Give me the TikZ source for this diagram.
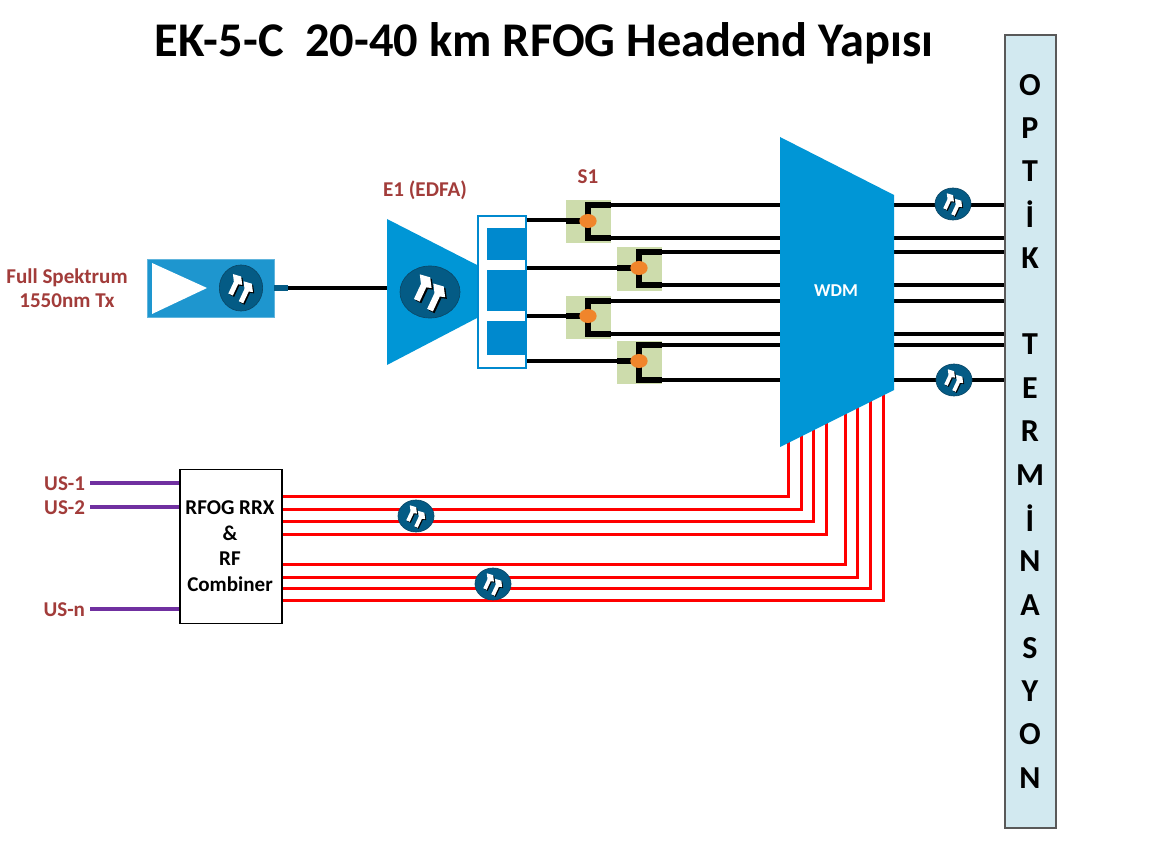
\documentclass[tikz,border=0pt]{standalone}
\usepackage{fontspec}
\setmainfont{Carlito}
\usetikzlibrary{backgrounds,shapes.geometric}
\definecolor{wdmblue}{HTML}{0096D6}
\definecolor{txblue}{HTML}{1E96CF}
\definecolor{inblue}{HTML}{0089CE}
\definecolor{ampdark}{HTML}{045B85}
\definecolor{ampedge}{HTML}{0A4868}
\definecolor{labelred}{HTML}{A23C3A}
\definecolor{splitgreen}{HTML}{CDDCAC}
\definecolor{dotorange}{HTML}{F0852B}
\definecolor{barfill}{HTML}{D2E9F0}
\definecolor{uspurple}{HTML}{7030A0}
\tikzset{
  x=0.75pt,y=-0.75pt,
  every node/.style={inner sep=0pt,outer sep=0pt,align=center,font=\bfseries\fontsize{15.8}{18}\selectfont},
  fiber/.style={black,line width=2.3pt},
  fiberfat/.style={black,line width=4.2pt},
  redfiber/.style={red,line width=2.25pt},
  usline/.style={uspurple,line width=2.6pt},
  brownlabel/.style={text=labelred},
  ampdisc/.style={ellipse,draw=ampedge,line width=0.5pt,fill=ampdark},
  smallamp/.style={ampdisc,minimum width=27pt,minimum height=24pt},
  splitbox/.style={fill=splitgreen,minimum width=33.75pt,minimum height=32.5pt},
  splitdot/.style={ellipse,fill=dotorange,minimum width=13pt,minimum height=10.5pt},
  ampmark/.pic={
    \foreach \dx/\dy/\col in {1/1/black,0/0/white}{
      \foreach \tx/\ty/\len in {-8/5/16,0/11/16.5}{
        \fill[\col,shift={(\tx+\dx,\ty+\dy)},rotate=-25]
          (-1.9,0) -- (1.9,0) -- (1.9,-\len+6.5) -- (5,-\len+5.5) -- (1.5,-\len) -- (-5,-\len+1) -- (-1.9,-\len+6) -- cycle;
      }
    }
  }
}
\begin{document}
\begin{tikzpicture}
\useasboundingbox (0,0) rectangle (1158,852);

% Title
\node[font=\bfseries\fontsize{36.3}{40}\selectfont] (title) at (544,43) {EK-5-C\ \ 20-40 km RFOG Headend Yapısı};

% Termination bar with its vertical lettering
\node[draw=black!65,line width=1pt,fill=barfill,minimum width=38.25pt,minimum height=594.75pt] (bar) at (1030.5,431.5) {};
\foreach \yy/\ch/\n in {85/O/a,128/P/b,171/T/c,214/İ/d,258/K/e,344/T/f,388/E/g,431/R/h,475/M/i,518/İ/j,561/N/k,605/A/l,648/S/m,691/Y/n,734/O/o,778/N/p}
  \node[font=\bfseries\fontsize{24}{26}\selectfont] (ch\n) at (1030,\yy) {\ch};

% WDM body and its ports
\fill[wdmblue] (780,137) -- (894,195) -- (894,390) -- (780,447) -- cycle;
\node[text=white,font=\bfseries\fontsize{13.6}{16}\selectfont] (wdm) at (836,291) {WDM};
\foreach \yy/\n in {205/1,238/2,252/3,285/4,301/5,334/6,345/7,380/8}{
  \coordinate (wl\n) at (780,\yy);
  \coordinate (wr\n) at (894,\yy);
  \coordinate (bar\n) at (1005,\yy);
}

% Transmitter
\node[fill=txblue,draw=txblue!70!white,line width=0.4pt,minimum width=95pt,minimum height=43.5pt] (tx) at (210.7,288) {};
\fill[white] (152,263) -- (207,288) -- (152,314) -- cycle;
\node[ampdisc,minimum width=32.5pt,minimum height=34.5pt] (txamp) at (241,288) {};
\pic[scale=1.3] at (241,288) {ampmark};
\node[fill=ampdark,minimum width=10.5pt,minimum height=4pt] (txport) at (281,288) {};
\node[brownlabel] (txlabel) at (67,288) {Full Spektrum\\1550nm Tx};

% EDFA
\fill[wdmblue] (387,219) -- (477,265) -- (477,318) -- (387,365) -- cycle;
\coordinate (edfain) at (387,288);
\node[ampdisc,minimum width=45pt,minimum height=39pt] (edfaamp) at (430,292) {};
\pic[scale=1.65] at (430,292) {ampmark};
\node[brownlabel] (edfalabel) at (425,190) {E1 (EDFA)};
\node[draw=inblue,fill=white,line width=2.2pt,minimum width=36pt,minimum height=114pt] (outs) at (502,292) {};
\foreach \ya/\yb/\n in {228/260/a,270/311/b,321/355/c}
  \path[fill=inblue] (487,\ya) rectangle (526,\yb);
\coordinate (outa) at (527,220);
\coordinate (outb) at (527,268);
\coordinate (outc) at (527,316);
\coordinate (outd) at (527,361);

% Splitter blocks
\foreach \xx/\yy/\n in {588.5/221.5/a,639.5/269/b,588.5/317.5/c,639.5/362.5/d}
  \node[splitbox] (sp\n) at (\xx,\yy) {};
\node[brownlabel] (s1label) at (588,177) {S1};

% Upstream receiver
\node[draw=black,line width=0.8pt,fill=white,minimum width=76.5pt,minimum height=115pt] (rx) at (231,546.5) {};
\node[font=\bfseries\fontsize{15.8}{19.2}\selectfont] (rxtext) at (230,546) {RFOG RRX\\\&\\RF\\Combiner};
\node[brownlabel,anchor=east] (us1) at (85,484) {US-1};
\node[brownlabel,anchor=east] (us2) at (85,508) {US-2};
\node[brownlabel,anchor=east] (usn) at (85,610) {US-n};
\coordinate (usi1) at (180,483);
\coordinate (usi2) at (180,507);
\coordinate (usin) at (180,609);

% In-line amplifier marks
\foreach \xx/\yy/\n in {953/204/a,954/380/b,416/516/c,493/584/d}{
  \node[smallamp] (amp\n) at (\xx,\yy) {};
  \pic at (\xx,\yy) {ampmark};
}

% Connectors sit underneath all of the blocks
\begin{scope}[on background layer]
  \fill[white] (0,0) rectangle (1158,852);
  \draw[fiber] (txport.east) -- (edfain);
  \foreach \n in {1,...,8}
    \draw[fiber] (wr\n) -- (bar\n);
  % splitter feeds and their tails into the WDM
  \foreach \s/\o/\u/\l in {a/outa/1/2,b/outb/3/4,c/outc/5/6,d/outd/7/8}{
    \draw[fiber] (\o) -- (sp\s.west |- \o);
    \draw[fiber] (sp\s.east |- wl\u) -- (wl\u);
    \draw[fiber] (sp\s.east |- wl\l) -- (wl\l);
  }
  % upstream fibres
  \foreach \yy/\xx in {497/788,510/801,522/813,535/826,564/845,577/857,588/870,600/883}
    \draw[redfiber,line join=miter] (282,\yy) -- (\xx,\yy) -- (\xx,380);
  \draw[usline] (90,483) -- (usi1);
  \draw[usline] (90,507) -- (usi2);
  \draw[usline] (90,609) -- (usin);
\end{scope}

% Splitter internals go above the green blocks
\foreach \s/\u/\l/\xx/\yy in {a/1/2/588/221,b/3/4/639/268,c/5/6/588/316,d/7/8/639/361}{
  \draw[fiberfat] (sp\s.west |- 0,\yy) -- (\xx,\yy);
  \draw[fiberfat,line join=miter] (sp\s.east |- wl\u) -- (\xx,\yy |- wl\u) -- (\xx,\yy |- wl\l) -- (sp\s.east |- wl\l);
  \node[splitdot] (dot\s) at (\xx,\yy) {};
}
\end{tikzpicture}
\end{document}
